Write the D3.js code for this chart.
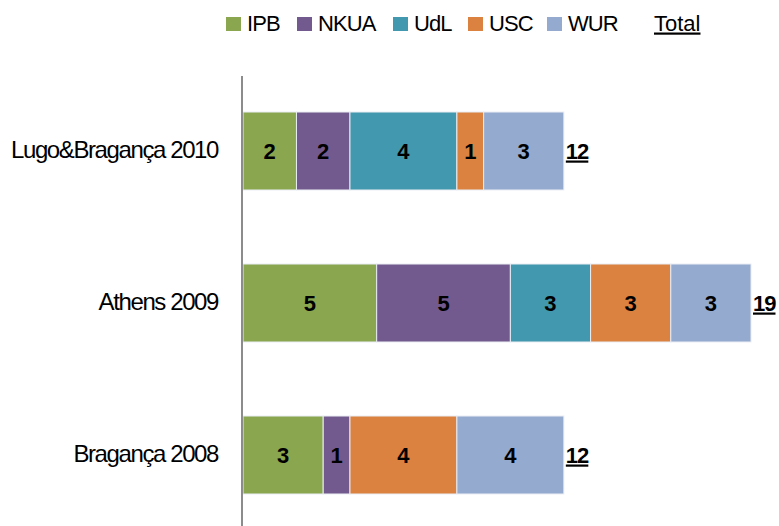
<!DOCTYPE html>
<html>
<head>
<meta charset="utf-8">
<script src="https://cdn.jsdelivr.net/npm/d3@7"></script>
<style>
  body { margin: 0; background: #fff; }
  svg { display: block; font-family: "Liberation Sans", Arial, sans-serif; }
  .cat { font-size: 24px; letter-spacing: -1.4px; fill: #000; }
  .val { font-size: 22px; font-weight: bold; fill: #000; }
  .tot { font-size: 22px; font-weight: bold; letter-spacing: -1px; fill: #000; text-decoration: underline; }
  .leg { font-size: 22px; letter-spacing: -0.9px; fill: #000; }
</style>
</head>
<body>
<svg></svg>
<script>
// events, top to bottom
const events = ['Lugo&Bragança 2010', 'Athens 2009', 'Bragança 2008'];
const partners = ['IPB', 'NKUA', 'UdL', 'USC', 'WUR'];
const colors = ['#8AA64E', '#725A8E', '#4298AE', '#DC8240', '#94AACF'];

// participants per partner for each event
const IPB = [2, 5, 3];
const NKUA = [2, 5, 1];
const UdL = [4, 3, 0];
const USC = [1, 3, 4];
const WUR = [3, 3, 4];
const series = [IPB, NKUA, UdL, USC, WUR];

const width = 779;
const height = 526;

const svg = d3.select("svg")
    .attr("width", width)
    .attr("height", height);

const rows = events.map((e, i) => {
    const r = { event: e };
    partners.forEach((p, j) => r[p] = series[j][i]);
    r.total = d3.sum(series, s => s[i]);
    return r;
});

const x = d3.scaleLinear()
    .domain([0, 19])
    .range([243, 751]);

const y = d3.scaleBand()
    .domain(events)
    .range([75, 531])
    .paddingInner(0.487)
    .paddingOuter(0.2435);

const mid = d => y(d) + y.bandwidth() / 2;

const color = d3.scaleOrdinal(partners, colors);

const stacked = d3.stack().keys(partners)(rows);

const layer = svg.selectAll("g.layer")
    .data(stacked)
    .enter().append("g")
    .attr("class", "layer")
    .attr("fill", d => color(d.key));

layer.selectAll("rect")
    .data(d => d.filter(s => s[1] > s[0]))
    .enter().append("rect")
    .attr("x", d => x(d[0]))
    .attr("y", d => y(d.data.event))
    .attr("width", d => x(d[1]) - x(d[0]))
    .attr("height", y.bandwidth())
    .attr("stroke", "#e8ecf2")
    .attr("stroke-width", 1);

layer.selectAll("text")
    .data(d => d.filter(s => s[1] > s[0]))
    .enter().append("text")
    .attr("class", "val")
    .attr("x", d => (x(d[0]) + x(d[1])) / 2)
    .attr("y", d => mid(d.data.event) + 8)
    .attr("text-anchor", "middle")
    .text(d => d[1] - d[0]);

// totals
svg.selectAll("text.tot")
    .data(rows)
    .enter().append("text")
    .attr("class", "tot")
    .attr("x", d => x(d.total) + 2)
    .attr("y", d => mid(d.event) + 7.5)
    .text(d => d.total);

// category labels
svg.selectAll("text.cat")
    .data(events)
    .enter().append("text")
    .attr("class", "cat")
    .attr("x", 218)
    .attr("y", d => mid(d) + 7)
    .attr("text-anchor", "end")
    .text(d => d);

// vertical axis line
svg.append("line")
    .attr("x1", 242).attr("x2", 242)
    .attr("y1", 76).attr("y2", height)
    .attr("stroke", "#8c8c8c")
    .attr("stroke-width", 2);

// legend
const legX = [226, 297, 393, 468, 547];
const leg = svg.selectAll("g.leg")
    .data(partners)
    .enter().append("g")
    .attr("class", "leg")
    .attr("transform", (d, i) => `translate(${legX[i]},17)`);

leg.append("rect")
    .attr("width", 15)
    .attr("height", 14)
    .attr("fill", d => color(d));

leg.append("text")
    .attr("class", "leg")
    .attr("x", 21)
    .attr("y", 13.5)
    .text(d => d);

svg.append("text")
    .attr("class", "leg")
    .attr("x", 654)
    .attr("y", 30.5)
    .style("letter-spacing", "0px")
    .style("text-decoration", "underline")
    .text("Total");
</script>
</body>
</html>
